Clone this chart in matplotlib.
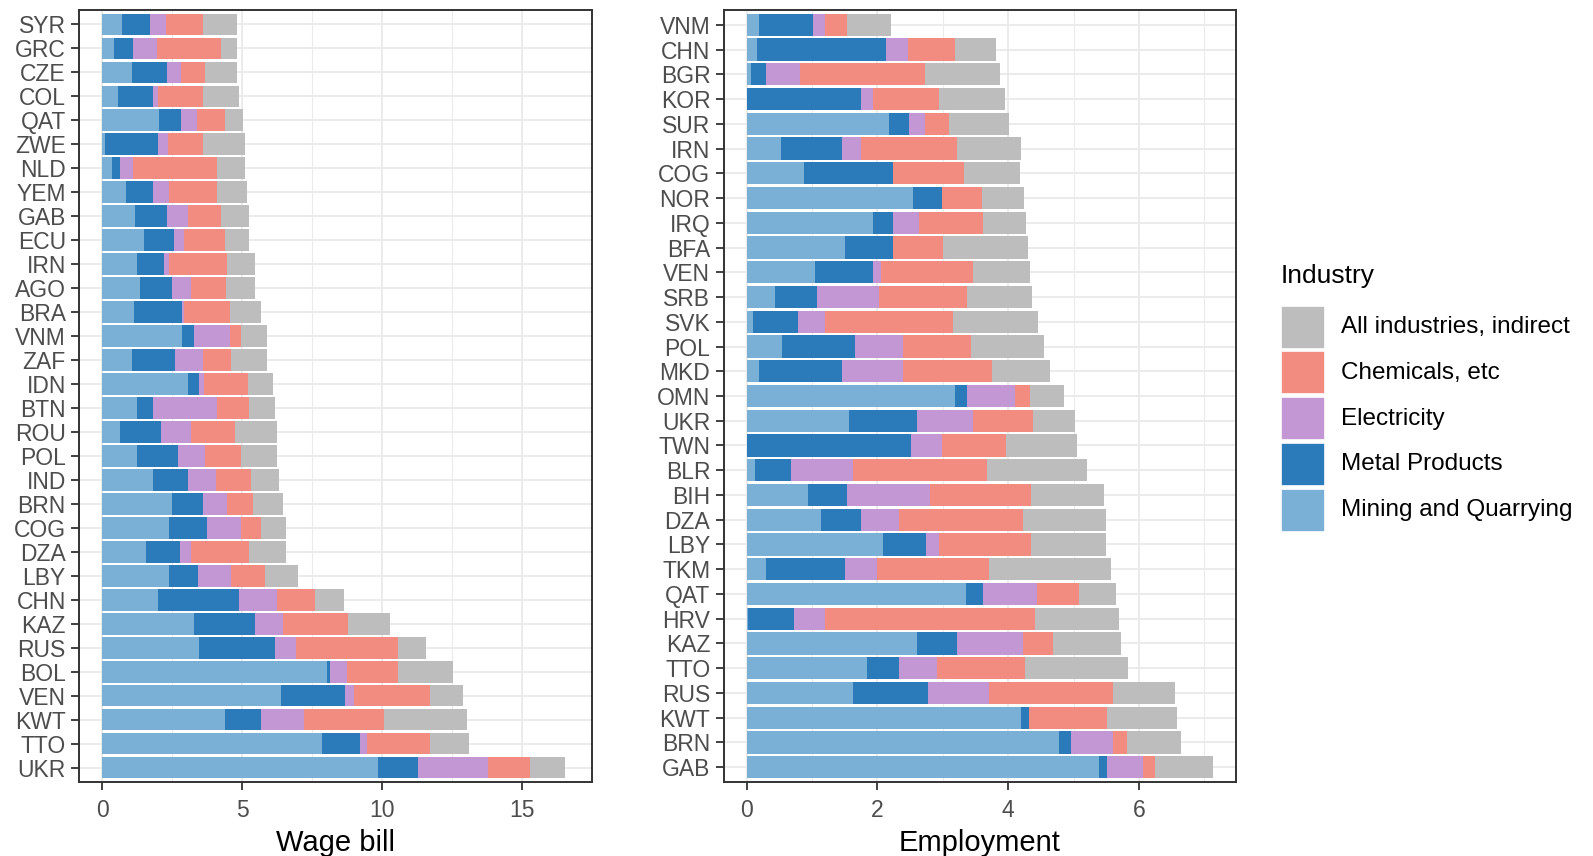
import matplotlib.pyplot as plt
from matplotlib.patches import Rectangle
import numpy as np

plt.rcParams['font.family'] = ['Liberation Sans', 'DejaVu Sans']

# Wage bill panel (top to bottom)
wage_countries = ["SYR", "GRC", "CZE", "COL", "QAT", "ZWE", "NLD", "YEM", "GAB", "ECU", "IRN",
                  "AGO", "BRA", "VNM", "ZAF", "IDN", "BTN", "ROU", "POL", "IND", "BRN", "COG",
                  "DZA", "LBY", "CHN", "KAZ", "RUS", "BOL", "VEN", "KWT", "TTO", "UKR"]
wage_mining = [0.71, 0.42, 1.06, 0.57, 2.04, 0.11, 0.34, 0.84, 1.19, 1.48, 1.26, 1.34, 1.13, 2.84,
               1.06, 3.05, 1.26, 0.64, 1.26, 1.83, 2.48, 2.40, 1.56, 2.40, 1.98, 3.27, 3.47, 8.02,
               6.39, 4.40, 7.87, 9.87]
wage_metal = [0.99, 0.69, 1.27, 1.25, 0.78, 1.87, 0.30, 0.99, 1.14, 1.07, 0.94, 1.14, 1.71, 0.43,
              1.56, 0.42, 0.57, 1.48, 1.44, 1.22, 1.14, 1.36, 1.21, 1.01, 2.92, 2.19, 2.69, 0.12,
              2.27, 1.27, 1.35, 1.41]
wage_elec = [0.57, 0.84, 0.49, 0.19, 0.56, 0.38, 0.47, 0.55, 0.72, 0.37, 0.19, 0.71, 0.07, 1.28,
             1.00, 0.18, 2.28, 1.07, 0.98, 1.00, 0.85, 1.21, 0.42, 1.21, 1.34, 0.99, 0.78, 0.60,
             0.34, 1.55, 0.24, 2.50]
wage_chem = [1.35, 2.29, 0.85, 1.61, 1.02, 1.26, 3.00, 1.73, 1.21, 1.48, 2.08, 1.22, 1.64, 0.42,
             1.00, 1.55, 1.14, 1.56, 1.29, 1.27, 0.92, 0.70, 2.06, 1.20, 1.35, 2.35, 3.63, 1.83,
             2.70, 2.85, 2.24, 1.50]
wage_all = [1.19, 0.57, 1.14, 1.27, 0.62, 1.47, 0.98, 1.05, 0.97, 0.83, 0.99, 1.05, 1.13, 0.91,
            1.26, 0.89, 0.91, 1.48, 1.26, 0.99, 1.06, 0.91, 1.33, 1.18, 1.06, 1.48, 1.00, 1.97,
            1.20, 2.97, 1.41, 1.25]

# Employment panel (top to bottom)
emp_countries = ["VNM", "CHN", "BGR", "KOR", "SUR", "IRN", "COG", "NOR", "IRQ", "BFA", "VEN",
                 "SRB", "SVK", "POL", "MKD", "OMN", "UKR", "TWN", "BLR", "BIH", "DZA", "LBY",
                 "TKM", "QAT", "HRV", "KAZ", "TTO", "RUS", "KWT", "BRN", "GAB"]
emp_mining = [0.18, 0.15, 0.06, 0.0, 2.17, 0.52, 0.88, 2.54, 1.93, 1.50, 1.04, 0.43, 0.09, 0.54,
              0.18, 3.18, 1.56, 0.0, 0.12, 0.94, 1.13, 2.08, 0.30, 3.36, 0.02, 2.60, 1.84, 1.62,
              4.20, 4.78, 5.39]
emp_metal = [0.83, 1.98, 0.24, 1.75, 0.31, 0.94, 1.36, 0.44, 0.31, 0.74, 0.89, 0.64, 0.70, 1.11,
             1.28, 0.19, 1.04, 2.51, 0.55, 0.59, 0.62, 0.67, 1.20, 0.25, 0.71, 0.61, 0.49, 1.16,
             0.12, 0.18, 0.12]
emp_elec = [0.19, 0.33, 0.52, 0.18, 0.24, 0.29, 0.0, 0.0, 0.40, 0.0, 0.13, 0.95, 0.40, 0.74,
            0.93, 0.73, 0.86, 0.47, 0.95, 1.28, 0.58, 0.19, 0.49, 0.83, 0.47, 1.01, 0.58, 0.92,
            0.0, 0.65, 0.55]
emp_chem = [0.33, 0.72, 1.90, 1.01, 0.37, 1.46, 1.08, 0.62, 0.97, 0.77, 1.40, 1.35, 1.96, 1.04,
            1.37, 0.24, 0.92, 0.98, 2.06, 1.54, 1.89, 1.41, 1.72, 0.64, 3.21, 0.47, 1.34, 1.91,
            1.19, 0.21, 0.18]
emp_all = [0.67, 0.64, 1.16, 1.01, 0.92, 0.98, 0.86, 0.64, 0.67, 1.29, 0.88, 1.00, 1.31, 1.12,
           0.88, 0.52, 0.64, 1.09, 1.52, 1.12, 1.28, 1.15, 1.86, 0.57, 1.28, 1.03, 1.59, 0.94,
           1.07, 0.82, 0.89]

industries = ["Mining and Quarrying", "Metal Products", "Electricity", "Chemicals, etc",
              "All industries, indirect"]
colors = {"Mining and Quarrying": "#7BB0D6",
          "Metal Products": "#2B7BBA",
          "Electricity": "#C397D4",
          "Chemicals, etc": "#F28B80",
          "All industries, indirect": "#BDBDBD"}

GRID = "#EBEBEB"
DARK = "#333333"
TICKTXT = "#4D4D4D"
W, H = 1593, 856


def draw_panel(ax, countries, series, xlabel, major, minor):
    n = len(countries)
    y = np.arange(n)[::-1]
    left = np.zeros(n)
    for name, vals in zip(industries, series):
        vals = np.array(vals)
        ax.barh(y, vals, left=left, height=0.9, color=colors[name], linewidth=0, zorder=2)
        left += vals
    total = left.max()
    pad = total * 0.05
    ax.set_xlim(-pad, total + pad)
    ax.set_ylim(-0.6, n - 0.4)
    ax.set_yticks(y)
    ax.set_yticklabels(countries)
    ax.set_xticks(major)
    ax.set_xticks(minor, minor=True)
    ax.grid(which="major", color=GRID, linewidth=1.4, zorder=0)
    ax.grid(which="minor", axis="x", color=GRID, linewidth=0.8, zorder=0)
    ax.set_axisbelow(True)
    ax.tick_params(which="major", length=5.5, width=1.3, color=DARK, labelcolor=TICKTXT,
                   labelsize=16.5)
    ax.tick_params(axis="x", pad=7)
    ax.tick_params(axis="y", pad=4)
    ax.tick_params(which="minor", length=0)
    for s in ax.spines.values():
        s.set_color(DARK)
        s.set_linewidth(1.4)
    ax.set_xlabel(xlabel, fontsize=21, labelpad=5)


fig = plt.figure(figsize=(15.93, 8.56), dpi=100)
ax1 = fig.add_axes([79 / W, 1 - 782 / H, (592 - 79) / W, (782 - 10) / H])
ax2 = fig.add_axes([723.5 / W, 1 - 782 / H, (1236 - 723.5) / W, (782 - 10) / H])

draw_panel(ax1, wage_countries,
           [wage_mining, wage_metal, wage_elec, wage_chem, wage_all],
           "Wage bill", [0, 5, 10, 15], [2.5, 7.5, 12.5, 17.5])
draw_panel(ax2, emp_countries,
           [emp_mining, emp_metal, emp_elec, emp_chem, emp_all],
           "Employment", [0, 2, 4, 6], [1, 3, 5, 7])

# legend, drawn by hand to match ggplot key sizes
fig.text(1281 / W, 1 - 276 / H, "Industry", fontsize=19, va="center", ha="left")
for i, name in enumerate(industries[::-1]):
    cy = 327 + i * 45.8
    fig.add_artist(Rectangle((1281 / W, 1 - (cy + 21.5) / H), 44 / W, 43 / H,
                             transform=fig.transFigure, facecolor=colors[name],
                             edgecolor="white", linewidth=1.2))
    fig.text(1341 / W, 1 - cy / H, name, fontsize=17.5, va="center", ha="left")

fig.savefig("out.png", dpi=100)
